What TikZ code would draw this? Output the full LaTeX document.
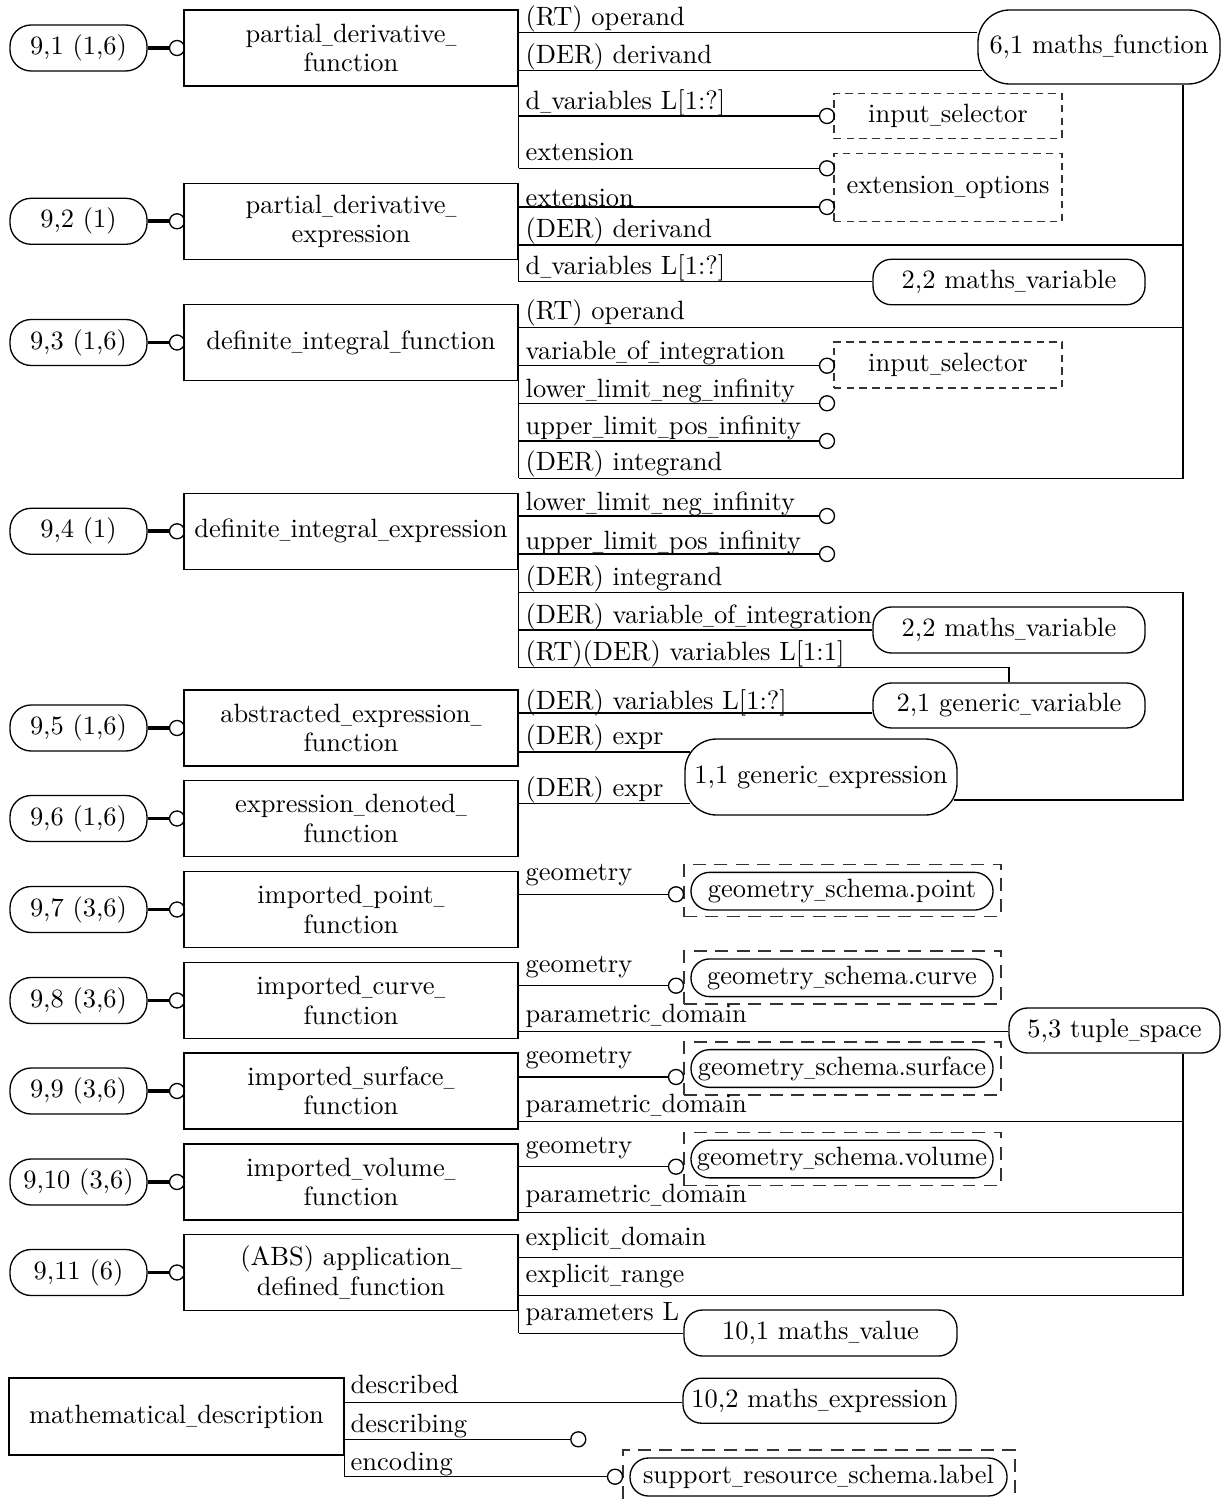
\documentclass[tikz,border=0pt]{standalone}
\usepackage{graphicx}
\usetikzlibrary{calc}
\def\pxu{0.3781pt}
\newcommand\usc{\scalebox{0.55}[1]{\_}}
\begin{document}
\begin{tikzpicture}[x=0.3781pt,y=-0.3781pt,line width=0.5pt,
  every node/.style={font=\fontsize{10}{11.1}\selectfont},
  ent/.style={draw,rectangle,minimum width=334*\pxu,minimum height=76*\pxu,inner sep=0pt,align=center},
  pref/.style={draw,rounded corners=8pt,minimum width=137*\pxu,minimum height=46*\pxu,inner sep=0pt},
  ty/.style={draw,rounded corners=7pt,inner sep=0pt},
  bigty/.style={draw,rounded corners=12pt,inner sep=0pt},
  sel/.style={draw=black!80,line width=0.4pt,dash pattern=on 2.8pt off 2pt,inner sep=0pt},
  isr/.style={draw=black!80,line width=0.4pt,dash pattern=on 4.9pt off 3.2pt,inner sep=0pt},
  oc/.style={draw,circle,minimum size=15*\pxu,inner sep=0pt},
  lab/.style={anchor=base west,inner sep=0pt},
  thk/.style={line width=1.5pt}]
\useasboundingbox (0,0) rectangle (1224,1501);
\clip (0,0) rectangle (1224,1501);

% ---------- left page references, circles and entity boxes
\node[pref] (r1) at (78.5,48) {9,1 (1,6)};
\node[oc] (k1) at (177,48) {};
\node[ent] (e1) at (351,48) {partial\usc derivative\usc\\function};
\node[pref] (r2) at (78.5,221.3) {9,2 (1)};
\node[oc] (k2) at (177,221.3) {};
\node[ent] (e2) at (351,221.3) {partial\usc derivative\usc\\expression};
\node[pref] (r3) at (78.5,342.5) {9,3 (1,6)};
\node[oc] (k3) at (177,342.5) {};
\node[ent] (e3) at (351,342.5) {definite\usc integral\usc function};
\node[pref] (r4) at (78.5,531.3) {9,4 (1)};
\node[oc] (k4) at (177,531.3) {};
\node[ent] (e4) at (351,531.3) {definite\usc integral\usc expression};
\node[pref] (r5) at (78.5,728) {9,5 (1,6)};
\node[oc] (k5) at (177,728) {};
\node[ent] (e5) at (351,728) {abstracted\usc expression\usc\\function};
\node[pref] (r6) at (78.5,818.5) {9,6 (1,6)};
\node[oc] (k6) at (177,818.5) {};
\node[ent] (e6) at (351,818.5) {expression\usc denoted\usc\\function};
\node[pref] (r7) at (78.5,909.5) {9,7 (3,6)};
\node[oc] (k7) at (177,909.5) {};
\node[ent] (e7) at (351,909.5) {imported\usc point\usc\\function};
\node[pref] (r8) at (78.5,1000.5) {9,8 (3,6)};
\node[oc] (k8) at (177,1000.5) {};
\node[ent] (e8) at (351,1000.5) {imported\usc curve\usc\\function};
\node[pref] (r9) at (78.5,1091) {9,9 (3,6)};
\node[oc] (k9) at (177,1091) {};
\node[ent] (e9) at (351,1091) {imported\usc surface\usc\\function};
\node[pref] (r10) at (78.5,1182) {9,10 (3,6)};
\node[oc] (k10) at (177,1182) {};
\node[ent] (e10) at (351,1182) {imported\usc volume\usc\\function};
\node[pref] (r11) at (78.5,1272.5) {9,11 (6)};
\node[oc] (k11) at (177,1272.5) {};
\node[ent] (e11) at (351,1272.5) {(ABS) application\usc\\defined\usc function};
\node[draw,minimum width=335*\pxu,minimum height=77*\pxu,inner sep=0pt] (md) at (176.5,1416.5) {mathematical\usc description};

\foreach \i in {1,...,11} {\draw[thk] (r\i.east) -- (k\i.west);}

% ---------- target nodes
\node[bigty,minimum width=242*\pxu,minimum height=74*\pxu] (mf) at (1099,47) {6,1 maths\usc function};
\node[sel,minimum width=228*\pxu,minimum height=45*\pxu] (is1) at (948,115.8) {input\usc selector};
\node[sel,minimum width=228*\pxu,minimum height=68*\pxu] (eo) at (948,187.5) {extension\usc options};
\node[ty,minimum width=272*\pxu,minimum height=45.5*\pxu] (mv1) at (1009,282) {2,2 maths\usc variable};
\node[sel,minimum width=228*\pxu,minimum height=46*\pxu] (is2) at (948,365) {input\usc selector};
\node[ty,minimum width=272*\pxu,minimum height=46*\pxu] (mv2) at (1009,630) {2,2 maths\usc variable};
\node[ty,minimum width=272*\pxu,minimum height=45*\pxu] (gv) at (1009,705.5) {2,1 generic\usc variable};
\node[bigty,minimum width=272*\pxu,minimum height=76*\pxu] (ge) at (821,777) {1,1 generic\usc expression};

\node[isr,minimum width=317*\pxu,minimum height=52*\pxu] (gpo) at (842.5,890.7) {};
\node[ty,minimum width=302*\pxu,minimum height=37.7*\pxu] (gp) at (842,891.2) {geometry\usc schema.point};
\node[isr,minimum width=317*\pxu,minimum height=53*\pxu] (gco) at (842.5,977.5) {};
\node[ty,minimum width=302*\pxu,minimum height=37.7*\pxu] (gc) at (842,977.8) {geometry\usc schema.curve};
\node[isr,minimum width=317*\pxu,minimum height=53*\pxu] (gso) at (842.5,1068.5) {};
\node[ty,minimum width=302*\pxu,minimum height=37.7*\pxu] (gs) at (842,1068.5) {geometry\usc schema.surface};
\node[isr,minimum width=317*\pxu,minimum height=53*\pxu] (gvo) at (842.5,1159) {};
\node[ty,minimum width=302*\pxu,minimum height=37.7*\pxu] (gvl) at (842,1159) {geometry\usc schema.volume};

\node[ty,minimum width=211*\pxu,minimum height=45*\pxu] (ts) at (1114.5,1030.5) {5,3 tuple\usc space};
\node[ty,minimum width=273*\pxu,minimum height=46*\pxu] (mval) at (820.5,1333) {10,1 maths\usc value};
\node[ty,minimum width=273*\pxu,minimum height=45*\pxu] (me) at (819.5,1400.7) {10,2 maths\usc expression};
\node[isr,minimum width=392*\pxu,minimum height=58*\pxu] (srso) at (819,1479) {};
\node[ty,minimum width=377*\pxu,minimum height=38*\pxu] (srs) at (818.5,1477) {support\usc resource\usc schema.label};

% ---------- small circles
\node[oc] (c1a) at (827,116) {};
\node[oc] (c1b) at (827,168.3) {};
\node[oc] (c2a) at (827,207) {};
\node[oc] (c3a) at (827,365.7) {};
\node[oc] (c3b) at (827,403.3) {};
\node[oc] (c3c) at (827,441) {};
\node[oc] (c4a) at (827,516) {};
\node[oc] (c4b) at (827,554) {};
\node[oc] (cg1) at (676,894.3) {};
\node[oc] (cg2) at (676,985.7) {};
\node[oc] (cg3) at (676,1077) {};
\node[oc] (cg4) at (676,1166.7) {};
\node[oc] (cm1) at (578.3,1439.3) {};
\node[oc] (cm2) at (615,1476.7) {};

\coordinate (busA) at (mf.south -| 1183,0);
\coordinate (busB) at (1183,800);
\coordinate (busC) at (ts.south -| 1183,0);

% ---------- group 9,1
\draw (e1.south east) -- (e1.east |- 0,168.3);
\draw (e1.east |- 0,32.3) -- (mf.west |- 0,32.3);
\draw (e1.east |- 0,70.3) -- ($(mf.west |- 0,70.3)+(5,0)$);
\draw (e1.east |- 0,116) -- (c1a.west);
\draw (e1.east |- 0,168.3) -- (c1b.west);
\node[lab] (l1a) at (525,26) {(RT) operand};
\node[lab] (l1b) at (525,63.3) {(DER) derivand};
\node[lab] (l1c) at (525,110) {d\usc variables L[1:?]};
\node[lab] (l1d) at (525,161) {extension};

% ---------- group 9,2
\draw (e2.south east) -- (e2.east |- 0,281.7);
\draw (e2.east |- 0,207) -- (c2a.west);
\draw (e2.east |- 0,245) -- (busA |- 0,245);
\draw (e2.east |- 0,281.7) -- (mv1.west |- 0,281.7);
\node[lab] (l2a) at (525,206.7) {extension};
\node[lab] (l2b) at (525,237.3) {(DER) derivand};
\node[lab] (l2c) at (525,275) {d\usc variables L[1:?]};

% ---------- group 9,3
\draw (e3.south east) -- (e3.east |- 0,478.3);
\draw (e3.east |- 0,327.7) -- (busA |- 0,327.7);
\draw (e3.east |- 0,365.7) -- (c3a.west);
\draw (e3.east |- 0,403.3) -- (c3b.west);
\draw (e3.east |- 0,441) -- (c3c.west);
\draw (e3.east |- 0,478.3) -| (busA);
\node[lab] (l3a) at (525,320) {(RT) operand};
\node[lab] (l3b) at (525,360) {variable\usc of\usc integration};
\node[lab] (l3c) at (525,397.3) {lower\usc limit\usc neg\usc infinity};
\node[lab] (l3d) at (525,435) {upper\usc limit\usc pos\usc infinity};
\node[lab] (l3e) at (525,471) {(DER) integrand};

% ---------- group 9,4
\draw (e4.south east) -- (e4.east |- 0,667.7);
\draw (e4.east |- 0,516) -- (c4a.west);
\draw (e4.east |- 0,554) -- (c4b.west);
\draw (e4.east |- 0,592.7) -| (busB) -- ($(ge.east |- busB)+(-4,0)$);
\draw (e4.east |- 0,630) -- (mv2.west |- 0,630);
\draw (e4.east |- 0,667.7) -| (gv.north);
\node[lab] (l4a) at (525,511) {lower\usc limit\usc neg\usc infinity};
\node[lab] (l4b) at (525,549) {upper\usc limit\usc pos\usc infinity};
\node[lab] (l4c) at (525,585) {(DER) integrand};
\node[lab] (l4d) at (525,623.3) {(DER) variable\usc of\usc integration};
\node[lab] (l4e) at (525,660.7) {(RT)(DER) variables L[1:1]};

% ---------- groups 9,5 and 9,6
\draw (e5.east |- 0,713) -- (gv.west |- 0,713);
\draw (e5.east |- 0,752) -- ($(ge.west |- 0,752)+(5.5,0)$);
\node[lab] (l5a) at (525,709) {(DER) variables L[1:?]};
\node[lab] (l5b) at (525,744.5) {(DER) expr};
\draw (e6.east |- 0,803.3) -- ($(ge.west |- 0,803.3)+(6,0)$);
\node[lab] (l6a) at (525,796.7) {(DER) expr};

% ---------- groups 9,7 to 9,10
\draw (e7.east |- 0,894.3) -- (cg1.west);
\node[lab] (l7a) at (525,880.7) {geometry};
\draw (e8.east |- 0,985.7) -- (cg2.west);
\draw (e8.east |- 0,1031.7) -- (ts.west |- 0,1031.7);
\node[lab] (l8a) at (525,972.3) {geometry};
\node[lab] (l8b) at (525,1022.7) {parametric\usc domain};
\draw (e9.east |- 0,1077) -- (cg3.west);
\draw (e9.east |- 0,1121.7) -- (busC |- 0,1121.7);
\node[lab] (l9a) at (525,1063.5) {geometry};
\node[lab] (l9b) at (525,1112) {parametric\usc domain};
\draw (e10.east |- 0,1166.7) -- (cg4.west);
\draw (e10.east |- 0,1212.3) -- (busC |- 0,1212.3);
\node[lab] (l10a) at (525,1153.3) {geometry};
\node[lab] (l10b) at (525,1202) {parametric\usc domain};

% ---------- group 9,11
\draw (e11.south east) -- (e11.east |- 0,1333.3);
\draw (e11.east |- 0,1257.7) -- (busC |- 0,1257.7);
\draw (e11.east |- 0,1295.7) -| (busC);
\draw (e11.east |- 0,1333.3) -- (mval.west |- 0,1333.3);
\node[lab] (l11a) at (525,1245) {explicit\usc domain};
\node[lab] (l11b) at (525,1282.7) {explicit\usc range};
\node[lab] (l11c) at (525,1320.7) {parameters L};

% ---------- mathematical_description
\draw (md.south east) -- (md.east |- 0,1476.7);
\draw (md.east |- 0,1402.3) -- (me.west |- 0,1402.3);
\draw (md.east |- 0,1439.3) -- (cm1.west);
\draw (md.east |- 0,1476.7) -- (cm2.west);
\node[lab] (lma) at (350,1393.3) {described};
\node[lab] (lmb) at (350,1432.7) {describing};
\node[lab] (lmc) at (350,1470) {encoding};
\end{tikzpicture}
\end{document}
